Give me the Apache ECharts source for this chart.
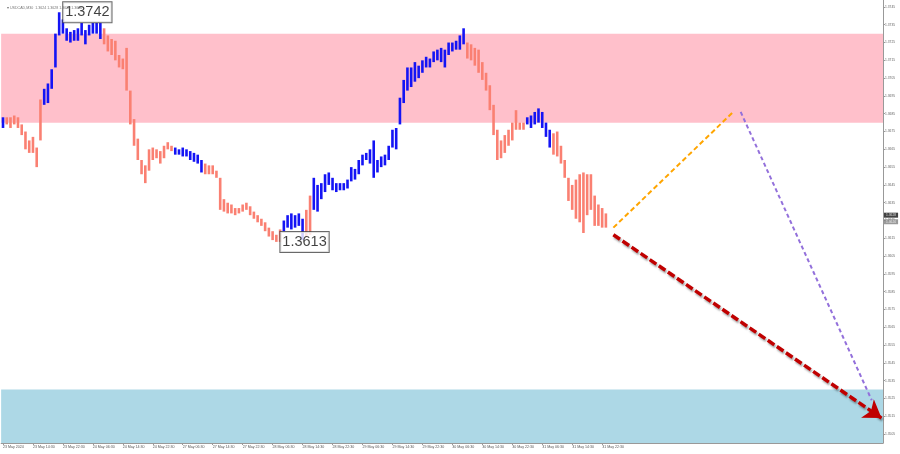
<!DOCTYPE html>
<html>
<head>
<meta charset="utf-8">
<script src="https://cdn.jsdelivr.net/npm/echarts@6/dist/echarts.min.js"></script>
<style>html,body{margin:0;padding:0;background:#fff}#c{width:900px;height:454px}</style>
</head>
<body>
<div id="c"></div>
<script>
const tickLabels = ['23 May 2024','23 May 14:30','23 May 22:30','24 May 06:30','24 May 14:30','24 May 22:30','27 May 06:30','27 May 14:30','27 May 22:30','28 May 06:30','28 May 14:30','28 May 22:30','29 May 06:30','29 May 14:30','29 May 22:30','30 May 06:30','30 May 14:30','30 May 22:30','31 May 06:30','31 May 14:30','31 May 22:30'];
const barsPerTick = 8;
const priceTicks = [1.3505,1.3515,1.3525,1.3535,1.3545,1.3555,1.3565,1.3575,1.3585,1.3595,1.3605,1.3615,1.3625,1.3635,1.3645,1.3655,1.3665,1.3675,1.3685,1.3695,1.3705,1.3715,1.3725,1.3735,1.3745];

const highs = [1.3683,1.3683,1.3683,1.3684,1.3683,1.3679,1.3675,1.3670,1.3672,1.3666,
1.3693,1.3699,1.3702,1.3710,1.3730,1.3742,1.3738,1.3733,1.3731,1.3732,
1.3733,1.3736,1.3732,1.3735,1.3736,1.3736,1.3736,1.3733,1.3729,1.3727,
1.3726,1.3718,1.3716,1.3722,1.3698,1.3682,1.3671,1.3659,1.3656,1.3665,
1.3666,1.3665,1.3664,1.3667,1.3669,1.3667,1.3666,1.3665,1.3666,1.3665,
1.3664,1.3663,1.3662,1.3659,1.3657,1.3656,1.3656,1.3653,1.3649,1.3637,
1.3635,1.3634,1.3632,1.3632,1.3634,1.3635,1.3633,1.3630,1.3628,1.3626,
1.3624,1.3621,1.3619,1.3617,1.3620,1.3625,1.3628,1.3629,1.3628,1.3629,
1.3626,1.3631,1.3639,1.3649,1.3645,1.3646,1.3651,1.3652,1.3649,1.3646,
1.3646,1.3646,1.3648,1.3655,1.3654,1.3659,1.3662,1.3663,1.3665,1.3670,
1.3659,1.3661,1.3662,1.3667,1.3676,1.3677,1.3694,1.3704,1.3711,1.3711,
1.3714,1.3712,1.3715,1.3717,1.3716,1.3720,1.3721,1.3722,1.3721,1.3725,
1.3725,1.3726,1.3729,1.3733,1.3725,1.3724,1.3722,1.3721,1.3714,1.3708,
1.3701,1.3690,1.3676,1.3670,1.3673,1.3676,1.3680,1.3687,1.3680,1.3680,
1.3683,1.3684,1.3686,1.3688,1.3686,1.3680,1.3676,1.3674,1.3675,1.3667,
1.3659,1.3649,1.3645,1.3648,1.3651,1.3652,1.3651,1.3651,1.3639,1.3634,
1.3632,1.3629];

const lows = [1.3677,1.3679,1.3677,1.3679,1.3677,1.3673,1.3665,1.3663,1.3663,1.3655,
1.3670,1.3690,1.3691,1.3699,1.3711,1.3729,1.3730,1.3726,1.3725,1.3726,
1.3726,1.3729,1.3724,1.3729,1.3730,1.3730,1.3727,1.3724,1.3720,1.3718,
1.3715,1.3711,1.3710,1.3698,1.3679,1.3667,1.3659,1.3651,1.3646,1.3653,
1.3659,1.3660,1.3657,1.3660,1.3665,1.3664,1.3662,1.3662,1.3661,1.3661,
1.3659,1.3658,1.3657,1.3652,1.3651,1.3651,1.3651,1.3649,1.3631,1.3630,
1.3629,1.3629,1.3628,1.3629,1.3630,1.3631,1.3628,1.3626,1.3624,1.3622,
1.3619,1.3616,1.3614,1.3613,1.3613,1.3619,1.3621,1.3620,1.3621,1.3622,
1.3614,1.3616,1.3617,1.3631,1.3630,1.3637,1.3641,1.3645,1.3642,1.3641,
1.3642,1.3642,1.3643,1.3647,1.3648,1.3651,1.3656,1.3659,1.3657,1.3649,
1.3652,1.3655,1.3656,1.3659,1.3666,1.3665,1.3679,1.3691,1.3698,1.3700,
1.3703,1.3705,1.3708,1.3711,1.3711,1.3714,1.3715,1.3714,1.3711,1.3718,
1.3720,1.3721,1.3721,1.3724,1.3716,1.3715,1.3712,1.3708,1.3704,1.3698,
1.3687,1.3673,1.3659,1.3660,1.3663,1.3667,1.3670,1.3676,1.3676,1.3676,
1.3679,1.3677,1.3679,1.3680,1.3677,1.3672,1.3666,1.3662,1.3661,1.3657,
1.3649,1.3636,1.3631,1.3626,1.3624,1.3618,1.3628,1.3631,1.3622,1.3622,
1.3621,1.3621];

// bar index ranges of upward waves (the rest are downward waves)
const upWaves = [[0,0],[11,26],[46,53],[75,80],[83,123],[140,146]];
// labelled extremes [bar index, price]
const extremes = [[15,1.3742],[73,1.3613]];
// price zones [low, high]
const zones = [[1.3680,1.3730],[1.3500,1.3530]];
// current bid / ask
const quotes = [1.3628,1.3626];
// forecast paths [bar index, price]
const forecastA = [[163,1.3621],[195,1.3686]];
const forecastB = [[197,1.3686],[232,1.3524]];
const forecastMain = [[163,1.3617],[234.6,1.3514]];
const symbolTitle = 'USDCAD,M30  1.3624 1.3628 1.3620 1.3626';

const zoneColors = ['#FFC0CB','#ADD8E6'];
const upColor = '#1414F5', downColor = '#FA8072';
const xMin = -0.5, xMax = 235;

function isUp(i){ return upWaves.some(r => i >= r[0] && i <= r[1]); }
const barData = highs.map((h,i) => [i, lows[i], h, isUp(i) ? 1 : 0]);

const chart = echarts.init(document.getElementById('c'), null, {renderer:'canvas'});
chart.setOption({
  animation:false,
  backgroundColor:'#fff',
  title:{text:'\u25BE ' + symbolTitle, left:2, top:1, textStyle:{fontSize:3.6, color:'#777', fontWeight:'normal', fontFamily:'Liberation Sans'}},
  grid:{left:0, right:17, top:0, bottom:11},
  xAxis:{
    type:'value', min:xMin, max:xMax,
    axisLine:{show:true, onZero:false, lineStyle:{color:'#999', width:1}},
    axisTick:{show:true, length:2, lineStyle:{color:'#999'}, customValues: tickLabels.map((_,k)=>k*barsPerTick)},
    axisLabel:{show:true, fontSize:3.6, color:'#555', align:'left', margin:2, fontFamily:'Liberation Sans',
      customValues: tickLabels.map((_,k)=>k*barsPerTick),
      formatter: v => tickLabels[Math.round(v/barsPerTick)] || ''},
    splitLine:{show:false}
  },
  yAxis:{
    type:'value', position:'right', min:1.3500, max:1.37489, scale:true,
    axisLine:{show:true, onZero:false, lineStyle:{color:'#999', width:1}},
    axisTick:{show:true, length:2, lineStyle:{color:'#999'}, customValues: priceTicks},
    axisLabel:{show:true, fontSize:3.3, color:'#666', margin:2, fontFamily:'Liberation Sans',
      customValues: priceTicks, formatter: v => v.toFixed(4)},
    splitLine:{show:false}
  },
  series:[
    {
      type:'custom', z:0, silent:true,
      data: zones.map((z,k)=>[z[0], z[1], k]),
      encode:{y:[0,1]},
      renderItem:(params, api) => {
        const cs = params.coordSys;
        const top = api.coord([0, api.value(1)])[1];
        const bot = api.coord([0, api.value(0)])[1];
        return {type:'rect', shape:{x:cs.x, y:top, width:cs.width, height:bot-top},
          style:{fill: zoneColors[api.value(2)]}};
      }
    },
    {
      type:'custom', z:2, silent:true, clip:true,
      data: barData,
      encode:{x:0, y:[1,2]},
      renderItem:(params, api) => {
        const x = api.value(0);
        const pHi = api.coord([x, api.value(2)]);
        const pLo = api.coord([x, api.value(1)]);
        return {type:'rect', shape:{x:pHi[0]-1.3, y:pHi[1], width:2.6, height:Math.max(1, pLo[1]-pHi[1])},
          style:{fill: api.value(3) ? upColor : downColor}};
      }
    },
    {
      type:'lines', coordinateSystem:'cartesian2d', z:3, silent:true,
      data:[{coords:forecastA}],
      symbol:'none',
      lineStyle:{color:'#FFA500', width:2, type:[5,3], opacity:1}
    },
    {
      type:'lines', coordinateSystem:'cartesian2d', z:3, silent:true,
      data:[{coords:forecastB}],
      symbol:'none',
      lineStyle:{color:'#9370DB', width:2, type:[4,3], opacity:1}
    },
    {
      type:'lines', coordinateSystem:'cartesian2d', z:4, silent:true,
      data:[{coords:forecastMain}],
      symbol:['none','arrow'], symbolSize:[14,17],
      lineStyle:{color:'#C00000', width:3.5, type:[8,3], opacity:1,
        shadowColor:'rgba(0,0,0,0.35)', shadowBlur:2, shadowOffsetX:1, shadowOffsetY:2}
    },
    {
      type:'scatter', z:5, silent:true,
      data: extremes,
      symbolSize:0,
      label:{show:true, position:'right', distance:4, formatter: p => p.value[1].toFixed(4),
        fontSize:14.5, color:'#111', fontFamily:'Liberation Sans', backgroundColor:'#fff',
        borderColor:'#444', borderWidth:1, padding:[2,2,1,2], lineHeight:17}
    },
    {
      type:'scatter', z:6, silent:true, clip:false,
      data: quotes.map((q,k)=>({value:[xMax, q], label:{backgroundColor: k===0 ? '#111' : '#808080', offset:[0, k===0 ? 0 : 3]}})),
      symbolSize:0,
      label:{show:true, position:'right', distance:1, formatter: p => p.value[1].toFixed(4),
        fontSize:3.3, color:'#fff', fontFamily:'Liberation Sans', padding:[1,2]}
    }
  ]
});
</script>
</body>
</html>
